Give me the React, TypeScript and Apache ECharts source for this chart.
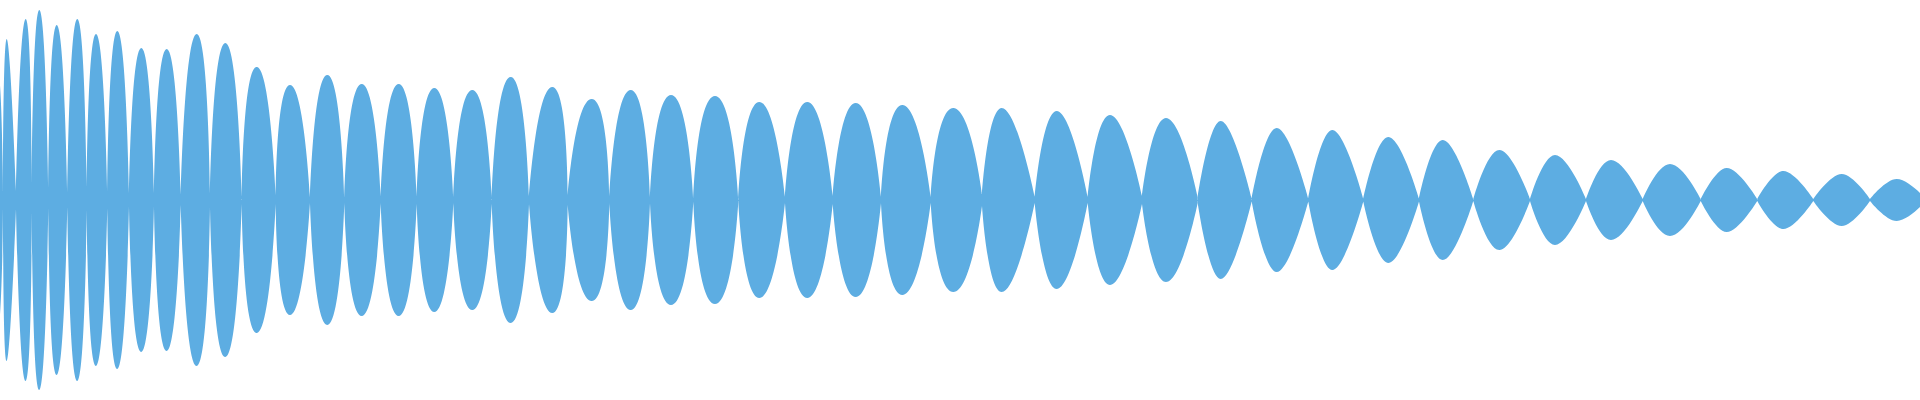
import React, { useEffect, useRef } from "react";
import * as echarts from "echarts";

// Envelope of the waveform.
// x: time (ms), y: amplitude (full scale ±200)
const nodeX = [
  -10, 3, 16, 31.7, 48.3, 67.3, 86.7, 107.3, 129, 154, 180.7, 210, 241.7, 275.7, 310, 344.3,
  380.7, 416.7, 453.3, 491.7, 529, 567.7, 609.3, 650, 693.3, 738.3, 785, 832.7, 881, 930.7,
  982, 1034.7, 1087.7, 1142, 1197.7, 1251.7, 1308.3, 1363.3, 1419, 1473.3, 1530, 1586,
  1642.7, 1700.7, 1757.3, 1813.3, 1870, 1926,
];
const nodeAmp = [
  8, 9, 9, 13, 8, 7, 10, 8, 6, 6, 5, 7, 4, 4, 3, 3, 3, 3.5, 3, 3.5, 4, 5, 3, 3, 1.5, 2, 3, 4,
  3, 3, 6, 3, 3, 4, 3, 1.5, 1.5, 1.5, 1.5, 1, 1, 1, 1, 1, 1, 1, 1, 1,
];
const peakX = [
  -3, 6.7, 25.7, 39.3, 56.7, 77.3, 96, 117.3, 141.3, 166.7, 196.7, 225.3, 256.7, 290, 327.3,
  361.7, 398.7, 434.3, 472.3, 510.7, 552.3, 591.7, 630.7, 671, 715, 759.3, 807.3, 855.7,
  902.3, 953.3, 1001.7, 1056.7, 1110, 1166, 1220.7, 1276.7, 1332.3, 1388.3, 1442.7, 1499.3,
  1555, 1611, 1670, 1726.7, 1783.3, 1841.7, 1896.7,
];
const peakAmp = [
  132, 161, 181, 190, 175, 181, 166, 169, 152, 151, 166, 157, 133, 115, 125, 116, 116, 112,
  110, 123, 113, 101, 110, 105, 104, 98, 98, 97, 95, 92, 92, 89, 85, 82, 79, 72, 70, 63, 60,
  50, 45, 40, 36, 32, 29, 26, 21,
];

const COLOR = "#5dade2";

function buildSegments(from: number, to: number, sign: number) {
  const data: any[] = [];
  for (let i = from; i < to; i++) {
    data.push([nodeX[i], sign * nodeAmp[i]]);
    data.push([peakX[i], sign * peakAmp[i]]);
    data.push([nodeX[i + 1], sign * nodeAmp[i + 1]]);
    data.push([nodeX[i + 1], "-"]);
  }
  return data;
}

// lobe shape: roundness of each run of lobes
const groups = [
  { from: 0, to: 25, smooth: 0.8 },
  { from: 25, to: 30, smooth: 0.7 },
  { from: 30, to: 34, smooth: 0.55 },
  { from: 34, to: 43, smooth: 0.45 },
  { from: 43, to: 47, smooth: 0.4 },
];

export default function App() {
  const ref = useRef<HTMLDivElement>(null);
  useEffect(() => {
    if (!ref.current) return;
    const chart = echarts.init(ref.current, null, { renderer: "svg" });
    const series: any[] = [];
    groups.forEach((g) => {
      [1, -1].forEach((sign) => {
        series.push({
          type: "line",
          data: buildSegments(g.from, g.to, sign),
          smooth: g.smooth,
          showSymbol: false,
          symbol: "none",
          connectNulls: false,
          lineStyle: { width: 0, color: COLOR },
          areaStyle: { color: COLOR, opacity: 1 },
          itemStyle: { color: COLOR },
          silent: true,
          clip: true,
        });
      });
    });
    chart.setOption({
      animation: false,
      grid: { left: 0, right: 0, top: 0, bottom: 0 },
      xAxis: {
        type: "value",
        min: 0,
        max: 1920,
        axisLine: { show: true, onZero: true, lineStyle: { color: COLOR, width: 1 } },
        axisTick: { show: false },
        axisLabel: { show: false },
        splitLine: { show: false },
      },
      yAxis: { type: "value", min: -200, max: 200, show: false },
      series,
    });
    return () => chart.dispose();
  }, []);
  return (
    <div
      ref={ref}
      style={{ position: "absolute", left: 0, top: 0, width: 1920, height: 400 }}
    />
  );
}
